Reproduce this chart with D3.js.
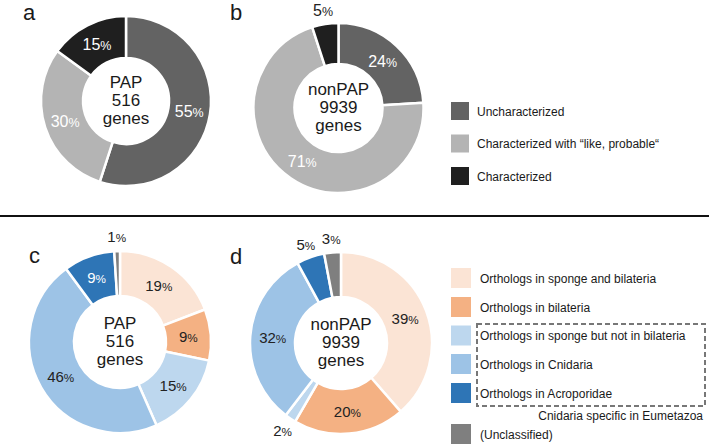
<!DOCTYPE html>
<html>
<head>
<meta charset="utf-8">
<script src="https://cdn.jsdelivr.net/npm/d3@7"></script>
<style>
  html, body { margin: 0; padding: 0; background: #fff; }
  svg { display: block; font-family: "Liberation Sans", Arial, Helvetica, sans-serif; }
</style>
</head>
<body>
<svg id="chart" width="709" height="445"></svg>
<script>
// ---------- data ----------
const topCategories = ["Uncharacterized", "Characterized with \u201Clike, probable\u201C", "Characterized"];
const topColors = ["#636363", "#b4b4b4", "#1f1f1f"];
const papTop = [55, 30, 15];
const nonpapTop = [24, 71, 5];

const bottomCategories = [
  "Orthologs in sponge and bilateria",
  "Orthologs in bilateria",
  "Orthologs in sponge but not in bilateria",
  "Orthologs in Cnidaria",
  "Orthologs in Acroporidae",
  "(Unclassified)"
];
const bottomColors = ["#fbe4d5", "#f4b183", "#bdd7ee", "#9dc3e6", "#2e75b6", "#7f7f7f"];
const papBottom = [19, 9, 15, 46, 9, 1];
const nonpapBottom = [39, 20, 2, 32, 5, 3];

const papCenter = ["PAP", "516", "genes"];
const nonpapCenter = ["nonPAP", "9939", "genes"];
const panelLetters = ["a", "b", "c", "d"];
const dashedCaption = "Cnidaria specific in Eumetazoa";

// ---------- drawing ----------
const svg = d3.select("#chart");
const pie = d3.pie().sort(null).value(d => d);

function donut(opts) {
  const { cx, cy, rOuter, rInner, values, colors, center, labelColors, fontSize } = opts;
  const g = svg.append("g").attr("transform", `translate(${cx},${cy})`);
  const arc = d3.arc().innerRadius(rInner).outerRadius(rOuter);
  const arcs = pie(values);
  g.selectAll("path.slice").data(arcs).enter().append("path")
    .attr("class", "slice")
    .attr("d", arc)
    .attr("fill", (d, i) => colors[i])
    .attr("stroke", "#fff")
    .attr("stroke-width", 2.5)
    .attr("stroke-linejoin", "round");

  const midArc = d3.arc().innerRadius((rInner + rOuter) / 2).outerRadius((rInner + rOuter) / 2);
  const outArc = d3.arc().innerRadius(rOuter + 14).outerRadius(rOuter + 14);

  arcs.forEach((d, i) => {
    const outside = d.data < 6;
    const [x, y] = (outside ? outArc : midArc).centroid(d);
    const t = g.append("text")
      .attr("x", x)
      .attr("y", y + fontSize * 0.36)
      .attr("text-anchor", "middle")
      .attr("fill", outside ? "#222" : labelColors[i]);
    t.append("tspan").attr("font-size", fontSize).text(d.data);
    t.append("tspan").attr("font-size", fontSize * 0.78).text("%");
  });

  const lineH = 18;
  g.selectAll("text.center").data(center).enter().append("text")
    .attr("class", "center")
    .attr("x", 0)
    .attr("y", (d, i) => (i - 1) * lineH + 5)
    .attr("text-anchor", "middle")
    .attr("font-size", 17)
    .attr("fill", "#1a1a1a")
    .text(d => d);
}

// Top row
const topLabelColors = ["#fff", "#fff", "#fff"];
donut({ cx: 126, cy: 101, rOuter: 85, rInner: 43, values: papTop, colors: topColors,
        center: papCenter, labelColors: topLabelColors, fontSize: 16 });
donut({ cx: 338.5, cy: 108, rOuter: 85, rInner: 44, values: nonpapTop, colors: topColors,
        center: nonpapCenter, labelColors: topLabelColors, fontSize: 16 });

// Bottom row
const bottomLabelColors = ["#222", "#222", "#222", "#222", "#fff", "#222"];
donut({ cx: 120, cy: 342, rOuter: 91, rInner: 46, values: papBottom, colors: bottomColors,
        center: papCenter, labelColors: bottomLabelColors, fontSize: 15 });
donut({ cx: 341, cy: 343, rOuter: 91, rInner: 46, values: nonpapBottom, colors: bottomColors,
        center: nonpapCenter, labelColors: bottomLabelColors, fontSize: 15 });

// Panel letters
const letterPos = [[23, 20], [230, 20], [29, 263], [230, 264]];
svg.selectAll("text.letter").data(panelLetters).enter().append("text")
  .attr("class", "letter")
  .attr("x", (d, i) => letterPos[i][0])
  .attr("y", (d, i) => letterPos[i][1])
  .attr("font-size", 22)
  .attr("fill", "#1a1a1a")
  .text(d => d);

// Divider
svg.append("line")
  .attr("x1", 0).attr("x2", 709).attr("y1", 216).attr("y2", 216)
  .attr("stroke", "#111").attr("stroke-width", 2);

// Top legend
const topLegY = d3.scaleLinear().domain([0, 2]).range([102, 167]);
const tl = svg.append("g");
topCategories.forEach((c, i) => {
  tl.append("rect").attr("x", 451).attr("y", topLegY(i)).attr("width", 18).attr("height", 18)
    .attr("fill", topColors[i]);
  tl.append("text").attr("x", 477).attr("y", topLegY(i) + 13.5)
    .attr("font-size", 12).attr("fill", "#1a1a1a").text(c);
});

// Bottom legend
const botLegY = [268, 297, 325.5, 354, 383, 424];
const bl = svg.append("g");
bottomCategories.forEach((c, i) => {
  bl.append("rect").attr("x", 451).attr("y", botLegY[i]).attr("width", 20).attr("height", 20)
    .attr("fill", bottomColors[i]);
  bl.append("text").attr("x", 480).attr("y", botLegY[i] + 14.5)
    .attr("font-size", 12).attr("fill", "#1a1a1a").text(c);
});

// Dashed box
bl.append("rect").attr("x", 477).attr("y", 324).attr("width", 228).attr("height", 82)
  .attr("fill", "none").attr("stroke", "#777").attr("stroke-width", 2)
  .attr("stroke-dasharray", "5,3");
bl.append("text").attr("x", 703).attr("y", 420).attr("text-anchor", "end")
  .attr("font-size", 12).attr("fill", "#1a1a1a").text(dashedCaption);
</script>
</body>
</html>
